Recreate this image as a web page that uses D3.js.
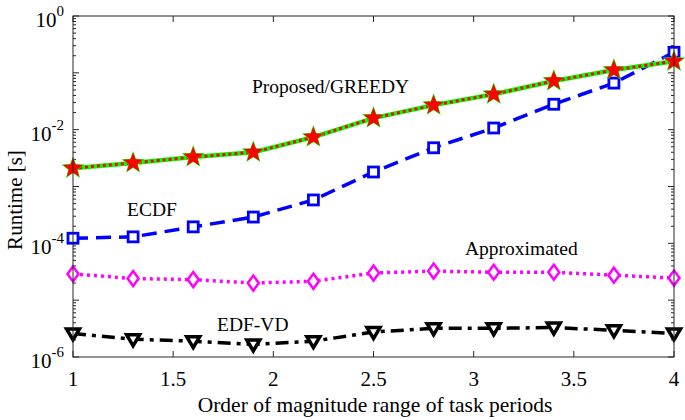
<!DOCTYPE html>
<html>
<head>
<meta charset="utf-8">
<script src="https://cdn.jsdelivr.net/npm/d3@7"></script>
<style>
  body { margin: 0; background: white; }
  svg { display: block; }
  text { font-family: "Liberation Serif", "Times New Roman", serif; fill: black; }
</style>
</head>
<body>
<svg id="chart"></svg>
<script>
const periodRange = [1, 1.3, 1.6, 1.9, 2.2, 2.5, 2.8, 3.1, 3.4, 3.7, 4];
const proposed = [2.1e-3, 2.6e-3, 3.3e-3, 4.0e-3, 7.4e-3, 1.6e-2, 2.7e-2, 4.2e-2, 7.2e-2, 0.112, 0.16];
const greedy = [2.1e-3, 2.6e-3, 3.3e-3, 4.0e-3, 7.4e-3, 1.6e-2, 2.7e-2, 4.2e-2, 7.2e-2, 0.112, 0.16];
const ecdf = [1.23e-4, 1.3e-4, 1.95e-4, 2.9e-4, 5.8e-4, 1.8e-3, 4.8e-3, 1.07e-2, 2.8e-2, 6.6e-2, 0.23];
const approximated = [2.9e-5, 2.4e-5, 2.3e-5, 2.0e-5, 2.15e-5, 3.0e-5, 3.25e-5, 3.1e-5, 3.1e-5, 2.75e-5, 2.45e-5];
const edfvd = [2.6e-6, 2.05e-6, 1.9e-6, 1.66e-6, 1.9e-6, 2.75e-6, 3.2e-6, 3.2e-6, 3.3e-6, 2.95e-6, 2.6e-6];
const xTicks = [1, 1.5, 2, 2.5, 3, 3.5, 4];
const yLabelExps = [0, -2, -4, -6];

const width = 685, height = 420;
const margin = { top: 16, right: 11, bottom: 63, left: 73 };
const innerWidth = width - margin.left - margin.right;
const innerHeight = height - margin.top - margin.bottom;

const svg = d3.select("#chart")
    .attr("width", width)
    .attr("height", height);

const g = svg.append("g")
    .attr("transform", `translate(${margin.left},${margin.top})`);

const x = d3.scaleLinear().domain([1, 4]).range([0, innerWidth]);
const y = d3.scaleLog().domain([1e-6, 1]).range([innerHeight, 0]);

// ticks (inward, on all four sides)
const axisG = g.append("g").attr("stroke", "#262626").attr("stroke-width", 1);
xTicks.forEach(t => {
    axisG.append("line").attr("x1", x(t)).attr("x2", x(t)).attr("y1", innerHeight).attr("y2", innerHeight - 6);
    axisG.append("line").attr("x1", x(t)).attr("x2", x(t)).attr("y1", 0).attr("y2", 6);
});
for (let e = -6; e <= 0; e++) {
    const yy = y(Math.pow(10, e));
    axisG.append("line").attr("x1", 0).attr("x2", 6).attr("y1", yy).attr("y2", yy);
    axisG.append("line").attr("x1", innerWidth).attr("x2", innerWidth - 6).attr("y1", yy).attr("y2", yy);
    if (e < 0) {
        for (let m = 2; m <= 9; m++) {
            const ym = y(m * Math.pow(10, e));
            axisG.append("line").attr("x1", 0).attr("x2", 3).attr("y1", ym).attr("y2", ym);
            axisG.append("line").attr("x1", innerWidth).attr("x2", innerWidth - 3).attr("y1", ym).attr("y2", ym);
        }
    }
}

// x tick labels
g.append("g").selectAll("text")
    .data(xTicks)
    .enter().append("text")
    .attr("x", d => x(d))
    .attr("y", innerHeight + 29)
    .attr("text-anchor", "middle")
    .style("font-size", "21px")
    .text(d => d);

// y tick labels with superscripts
yLabelExps.forEach(e => {
    const t = g.append("text")
        .attr("x", -9)
        .attr("y", y(Math.pow(10, e)) + 11)
        .attr("text-anchor", "end")
        .style("font-size", "21px");
    t.append("tspan").text("10");
    t.append("tspan")
        .attr("dy", -11)
        .style("font-size", "15px")
        .text(e === 0 ? "0" : "-" + Math.abs(e));
});

// axis titles
svg.append("text")
    .attr("x", 375)
    .attr("y", 412)
    .attr("text-anchor", "middle")
    .style("font-size", "21.5px")
    .text("Order of magnitude range of task periods");

svg.append("text")
    .attr("transform", "translate(22, 200) rotate(-90)")
    .attr("text-anchor", "middle")
    .style("font-size", "21px")
    .text("Runtime [s]");

const line = d3.line().x((d, i) => x(periodRange[i])).y(d => y(d));

function starPath(r) {
    const pts = [];
    for (let i = 0; i < 10; i++) {
        const rr = i % 2 === 0 ? r : r * 0.42;
        const a = -Math.PI / 2 + i * Math.PI / 5;
        pts.push([rr * Math.cos(a), rr * Math.sin(a)]);
    }
    return "M" + pts.map(p => p.join(",")).join("L") + "Z";
}

// EDF-VD
g.append("path").datum(edfvd)
    .attr("d", line).attr("fill", "none")
    .attr("stroke", "black").attr("stroke-width", 3.5)
    .attr("stroke-dasharray", "13,6,4,6");
g.append("g").selectAll("path").data(edfvd).enter().append("path")
    .attr("transform", (d, i) => `translate(${x(periodRange[i])},${y(d)})`)
    .attr("d", "M-6.5,-4.5L6.5,-4.5L0,6.5Z")
    .attr("fill", "white").attr("stroke", "black").attr("stroke-width", 3.5)
    .attr("stroke-linejoin", "miter");

// Approximated
g.append("path").datum(approximated)
    .attr("d", line).attr("fill", "none")
    .attr("stroke", "#ff00ff").attr("stroke-width", 3.5)
    .attr("stroke-dasharray", "3,4");
g.append("g").selectAll("path").data(approximated).enter().append("path")
    .attr("transform", (d, i) => `translate(${x(periodRange[i])},${y(d)})`)
    .attr("d", "M0,-7.5L5.5,0L0,7.5L-5.5,0Z")
    .attr("fill", "white").attr("stroke", "#ff00ff").attr("stroke-width", 2.5);

// ECDF
g.append("path").datum(ecdf)
    .attr("d", line).attr("fill", "none")
    .attr("stroke", "#0000ff").attr("stroke-width", 3.5)
    .attr("stroke-dasharray", "15,8");
g.append("g").selectAll("rect").data(ecdf).enter().append("rect")
    .attr("x", (d, i) => x(periodRange[i]) - 5)
    .attr("y", d => y(d) - 5)
    .attr("width", 10).attr("height", 10)
    .attr("fill", "white").attr("stroke", "#0000ff").attr("stroke-width", 2.8);

// GREEDY (green) and Proposed (red dotted) on top
g.append("path").datum(greedy)
    .attr("d", line).attr("fill", "none")
    .attr("stroke", "#00ff00").attr("stroke-width", 4.5);
g.append("path").datum(proposed)
    .attr("d", line).attr("fill", "none")
    .attr("stroke", "#ff0000").attr("stroke-width", 3)
    .attr("stroke-dasharray", "3,3");
g.append("g").selectAll("path").data(greedy).enter().append("path")
    .attr("transform", (d, i) => `translate(${x(periodRange[i])},${y(d)})`)
    .attr("d", starPath(12))
    .attr("fill", "#00ff00");
g.append("g").selectAll("path").data(proposed).enter().append("path")
    .attr("transform", (d, i) => `translate(${x(periodRange[i])},${y(d)})`)
    .attr("d", starPath(10.5))
    .attr("fill", "#ff0000");

// frame
g.append("rect")
    .attr("width", innerWidth).attr("height", innerHeight)
    .attr("fill", "none").attr("stroke", "#262626").attr("stroke-width", 1);

// series labels
const labels = [
    { text: "Proposed/GREEDY", x: 252, y: 93 },
    { text: "ECDF", x: 127, y: 216 },
    { text: "Approximated", x: 465, y: 255 },
    { text: "EDF-VD", x: 217, y: 331 }
];
svg.append("g").selectAll("text").data(labels).enter().append("text")
    .attr("x", d => d.x).attr("y", d => d.y)
    .style("font-size", "19.5px")
    .text(d => d.text);
</script>
</body>
</html>
